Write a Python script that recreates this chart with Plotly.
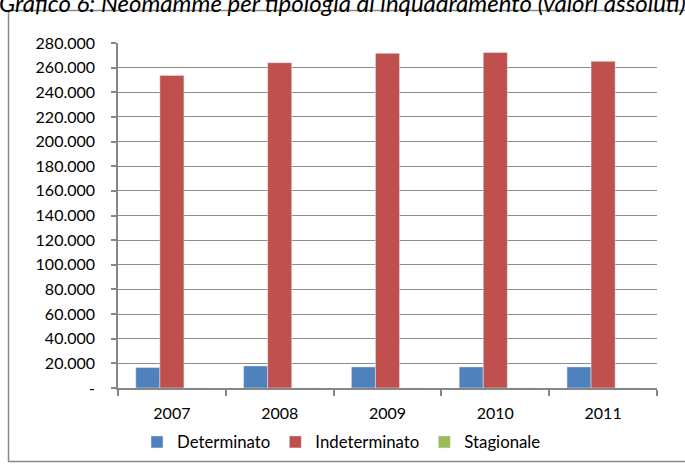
import plotly.graph_objects as go

years = ["2007", "2008", "2009", "2010", "2011"]
determinato = [16600, 17900, 17100, 17100, 17100]
indeterminato = [253700, 264000, 271600, 272200, 265100]
stagionale = [0, 0, 0, 0, 0]
y_tickvals = [0, 20000, 40000, 60000, 80000, 100000, 120000, 140000, 160000, 180000, 200000, 220000, 240000, 260000, 280000]
y_ticktext = ["-", "20.000", "40.000", "60.000", "80.000", "100.000", "120.000", "140.000", "160.000", "180.000", "200.000", "220.000", "240.000", "260.000", "280.000"]
title_text = "Grafico 6: Neomamme per tipologia di inquadramento (valori assoluti)"

FONT = "Lato"
W, H = 685, 466
L, R, T, B = 118, 28, 43, 78
pw, ph = W - L - R, H - T - B

def px_x(p):
    return (p - L) / pw

def px_y(p):
    return (H - B - p) / ph

fig = go.Figure()
fig.add_trace(go.Bar(name="Determinato", x=years, y=determinato, marker_color="#4F81BD"))
fig.add_trace(go.Bar(name="Indeterminato", x=years, y=indeterminato, marker_color="#C0504D"))
fig.add_trace(go.Bar(name="Stagionale", x=years, y=stagionale, marker_color="#9BBB59"))

fig.update_layout(
    width=W, height=H,
    margin=dict(l=L, r=R, t=T, b=B, pad=0, autoexpand=False),
    paper_bgcolor="white", plot_bgcolor="white",
    barmode="group", bargap=0.33, bargroupgap=0,
    font=dict(family=FONT, size=15, color="#000000"),
    showlegend=True,
    legend=dict(orientation="h", xref="container", yref="container",
                x=137 / W, xanchor="left", y=1 - 442 / H, yanchor="middle",
                font=dict(family=FONT, size=16.8), itemwidth=30, traceorder="normal",
                bgcolor="rgba(0,0,0,0)"),
    xaxis=dict(type="category", showgrid=False, showline=True, linecolor="#868686", linewidth=1.5,
               ticks="outside", tickson="boundaries", ticklen=6, tickcolor="#868686", tickwidth=1.5,
               ticklabelstandoff=10, automargin=False, tickfont=dict(family=FONT, size=16)),
    yaxis=dict(range=[0, 280000], tickvals=y_tickvals, ticktext=y_ticktext,
               showgrid=True, gridcolor="#8c8c8c", gridwidth=1.3,
               showline=True, linecolor="#868686", linewidth=1.5,
               ticks="outside", ticklen=5, tickcolor="#868686", tickwidth=1.5,
               ticklabelstandoff=13, zeroline=False, automargin=False,
               tickfont=dict(family=FONT, size=16)),
    shapes=[dict(type="rect", xref="paper", yref="paper",
                 x0=px_x(8.5), x1=px_x(720), y0=px_y(461.5), y1=px_y(10.5),
                 line=dict(color="#8a8a8a", width=1.5), fillcolor="rgba(0,0,0,0)", layer="below")],
    annotations=[dict(text=title_text, xref="paper", yref="paper", x=px_x(-3), xanchor="left",
                      y=px_y(3), yanchor="middle", showarrow=False,
                      font=dict(family=FONT, size=24, color="#000000", style="italic"))],
)

fig.write_html("out.html", config={"displayModeBar": False},
               post_script="document.body.style.margin='0';document.body.style.overflow='hidden';")
